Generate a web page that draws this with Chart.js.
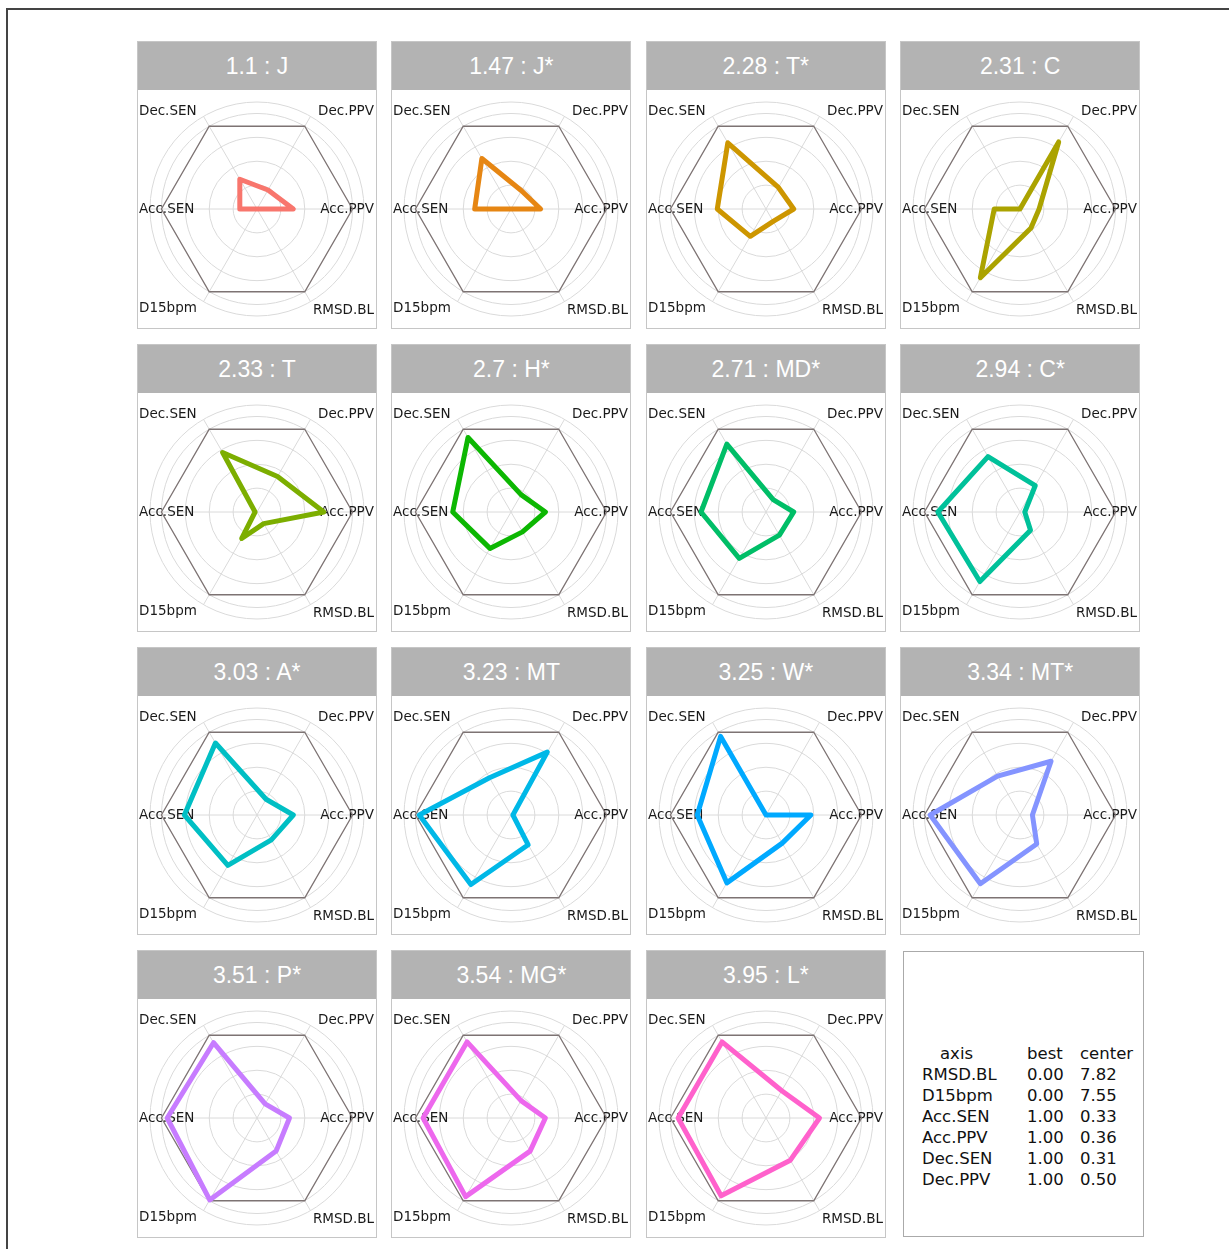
<!DOCTYPE html>
<html>
<head>
<meta charset="utf-8">
<script src="https://cdn.jsdelivr.net/npm/chart.js@4/dist/chart.umd.min.js"></script>
<style>
  html, body { margin: 0; padding: 0; background: #fff; }
  body { width: 1229px; height: 1249px; position: relative; overflow: hidden; font-family: "DejaVu Sans", sans-serif; }
  #frame { position: absolute; left: 6px; top: 8px; width: 1300px; height: 1300px; border: 2px solid #444; box-sizing: border-box; }
  .panel { position: absolute; width: 240px; height: 288px; border: 1px solid #c6c6c6; box-sizing: border-box; background: #fff; }
  .head { position: absolute; left: 0; top: 0; width: 238px; height: 48px; background: #b3b3b3; color: #fff;
          font-family: "Liberation Sans", Arial, sans-serif; font-size: 23px; line-height: 48px; text-align: center; }
  .panel canvas { position: absolute; left: 0; top: 48px; }
  #legend { position: absolute; left: 903px; top: 951px; width: 241px; height: 286px; border: 1px solid #aaa; box-sizing: border-box; }
  .lt { position: absolute; font-family: "DejaVu Sans", sans-serif; font-size: 16.5px; color: #111; line-height: 20px; white-space: nowrap; }
</style>
</head>
<body>
<div id="frame"></div>
<div id="grid"></div>
<div id="legend"></div>
<script>
// Axis categories in drawing order (startAngle 30 puts Dec.PPV upper right)
const axisLabels = ['Dec.PPV', 'Acc.PPV', 'RMSD.BL', 'D15bpm', 'Acc.SEN', 'Dec.SEN'];

// Panel titles
const panelTitles = ['1.1 : J', '1.47 : J*', '2.28 : T*', '2.31 : C',
                     '2.33 : T', '2.7 : H*', '2.71 : MD*', '2.94 : C*',
                     '3.03 : A*', '3.23 : MT', '3.25 : W*', '3.34 : MT*',
                     '3.51 : P*', '3.54 : MG*', '3.95 : L*'];

// Normalised scores (0 = centre, 1 = best) in axisLabels order
const scoreJ      = [0.23, 0.38, 0.00, 0.00, 0.18, 0.36];
const scoreJstar  = [0.22, 0.31, 0.00, 0.00, 0.38, 0.61];
const scoreTstar  = [0.26, 0.29, 0.15, 0.33, 0.51, 0.80];
const scoreC      = [0.81, 0.20, 0.23, 0.83, 0.27, 0.00];
const scoreT      = [0.43, 0.70, 0.14, 0.32, 0.02, 0.72];
const scoreHstar  = [0.21, 0.36, 0.24, 0.44, 0.61, 0.90];
const scoreMDstar = [0.15, 0.29, 0.28, 0.56, 0.68, 0.82];
const scoreCstar  = [0.32, 0.05, 0.22, 0.84, 0.86, 0.67];
const scoreAstar  = [0.19, 0.38, 0.30, 0.61, 0.76, 0.87];
const scoreMT     = [0.76, 0.02, 0.36, 0.84, 0.96, 0.45];
const scoreWstar  = [0.00, 0.47, 0.34, 0.82, 0.72, 0.95];
const scoreMTstar = [0.65, 0.13, 0.35, 0.83, 0.94, 0.47];
const scorePstar  = [0.17, 0.34, 0.40, 0.99, 0.94, 0.91];
const scoreMGstar = [0.21, 0.36, 0.40, 0.95, 0.92, 0.92];
const scoreLstar  = [0.33, 0.56, 0.51, 0.94, 0.92, 0.92];

// Best reference (hexagon)
const bestLevel = [1, 1, 1, 1, 1, 1];

// Panel colours
const panelColors = ['#F8766D', '#E68613', '#CD9600', '#ABA300', '#7CAE00', '#0CB702', '#00BE67', '#00C19A',
                     '#00BFC4', '#00B8E7', '#00A9FF', '#8494FF', '#C77CFF', '#ED68ED', '#FF61CC'];

// Grid circle levels
const gridLevels = [0, 0.25, 0.5, 0.75, 1, 1.12];

// Legend table
const legendAxis   = ['RMSD.BL', 'D15bpm', 'Acc.SEN', 'Acc.PPV', 'Dec.SEN', 'Dec.PPV'];
const legendBest   = ['0.00', '0.00', '1.00', '1.00', '1.00', '1.00'];
const legendCenter = ['7.82', '7.55', '0.33', '0.36', '0.31', '0.50'];

const allScores = [scoreJ, scoreJstar, scoreTstar, scoreC, scoreT, scoreHstar, scoreMDstar, scoreCstar,
                   scoreAstar, scoreMT, scoreWstar, scoreMTstar, scorePstar, scoreMGstar, scoreLstar];

const cornerLabels = {
  id: 'cornerLabels',
  beforeDatasetsDraw(chart) {
    const ctx = chart.ctx;
    const scale = chart.scales.r;
    const W = chart.width;
    ctx.save();
    ctx.font = '13.5px "DejaVu Sans"';
    ctx.fillStyle = '#1a1a1a';
    ctx.textBaseline = 'middle';
    chart.data.labels.forEach((lab, i) => {
      const a = scale.getIndexAngle(i) - Math.PI / 2;
      const c = Math.cos(a), s = Math.sin(a);
      let x, y;
      if (c > 0.1) { ctx.textAlign = 'right'; x = W - 2; } else { ctx.textAlign = 'left'; x = 1; }
      if (s < -0.1) y = 21;
      else if (s > 0.1) y = lab === 'RMSD.BL' ? 220 : 218;
      else y = scale.yCenter;
      ctx.fillText(lab, x, y);
    });
    ctx.restore();
  }
};

const grid = document.getElementById('grid');
allScores.forEach((vals, k) => {
  const col = k % 4, row = Math.floor(k / 4);
  const p = document.createElement('div');
  p.className = 'panel';
  p.style.left = (137 + col * 254.4) + 'px';
  p.style.top = (41 + row * 303) + 'px';
  const h = document.createElement('div');
  h.className = 'head';
  h.textContent = panelTitles[k];
  p.appendChild(h);
  const cv = document.createElement('canvas');
  cv.width = 238; cv.height = 238;
  p.appendChild(cv);
  grid.appendChild(p);
  new Chart(cv, {
    type: 'radar',
    data: {
      labels: axisLabels,
      datasets: [
        { data: vals, borderColor: panelColors[k], borderWidth: 5, fill: false, pointRadius: 0,
          borderJoinStyle: 'round', backgroundColor: 'transparent' },
        { data: bestLevel, borderColor: '#7d7373', borderWidth: 1.3, fill: false, pointRadius: 0,
          backgroundColor: 'transparent' }
      ]
    },
    options: {
      responsive: false,
      animation: false,
      layout: { padding: 12 },
      plugins: { legend: { display: false }, tooltip: { enabled: false } },
      elements: { line: { tension: 0 } },
      scales: {
        r: {
          min: 0, max: 1.12,
          startAngle: 30,
          afterBuildTicks: (axis) => { axis.ticks = gridLevels.map(v => ({ value: v })); },
          ticks: { display: false },
          grid: { circular: true, color: '#dadada', lineWidth: 1 },
          angleLines: { color: '#dadada', lineWidth: 1 },
          pointLabels: { display: false }
        }
      }
    },
    plugins: [cornerLabels]
  });
});

// Legend table
const lg = document.getElementById('legend');
function addText(txt, left, top) {
  const d = document.createElement('div');
  d.className = 'lt';
  d.textContent = txt;
  d.style.left = left + 'px';
  d.style.top = top + 'px';
  lg.appendChild(d);
}
addText('axis', 36, 92);
addText('best', 123, 92);
addText('center', 176, 92);
legendAxis.forEach((a, i) => {
  const t = 113 + i * 21;
  addText(a, 18, t);
  addText(legendBest[i], 123, t);
  addText(legendCenter[i], 176, t);
});
</script>
</body>
</html>
